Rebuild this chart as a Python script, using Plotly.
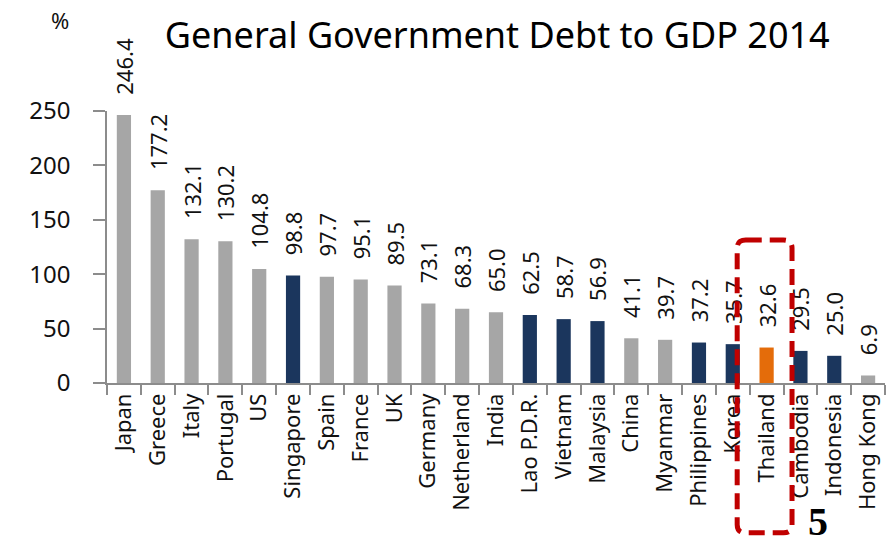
import plotly.graph_objects as go

countries = ["Japan", "Greece", "Italy", "Portugal", "US", "Singapore", "Spain",
             "France", "UK", "Germany", "Netherland", "India", "Lao P.D.R.",
             "Vietnam", "Malaysia", "China", "Myanmar", "Philippines", "Korea",
             "Thailand", "Cambodia", "Indonesia", "Hong Kong"]
debt_pct = [246.4, 177.2, 132.1, 130.2, 104.8, 98.8, 97.7, 95.1, 89.5, 73.1,
            68.3, 65.0, 62.5, 58.7, 56.9, 41.1, 39.7, 37.2, 35.7, 32.6, 29.5,
            25.0, 6.9]
asean = {"Singapore", "Lao P.D.R.", "Vietnam", "Malaysia", "Philippines",
         "Korea", "Cambodia", "Indonesia"}
y_ticks = [0, 50, 100, 150, 200, 250]

GRAY, NAVY, ORANGE = "#A6A6A6", "#1B365D", "#E46C0A"
colors = [ORANGE if c == "Thailand" else NAVY if c in asean else GRAY
          for c in countries]

FONT = "Noto Sans"
AXIS = "#8C8C8C"

fig = go.Figure(go.Bar(
    x=countries, y=debt_pct, marker_color=colors, marker_line_width=0,
    # leading no-break spaces lift the rotated value labels off the bars
    texttemplate="\u00a0\u00a0\u00a0%{y:.1f}", textposition="outside",
    textangle=-90, constraintext="none",
    textfont=dict(family=FONT, size=22, color="#111"),
    cliponaxis=False, width=0.42,
))

# dashed highlight around Thailand
x0, x1, y0, y1 = 0.81, 0.8805, -0.551, 0.5257
rx, ry = 0.011, 0.03
path = (f"M {x0+rx},{y1} L {x1-rx},{y1} Q {x1},{y1} {x1},{y1-ry} "
        f"L {x1},{y0+ry} Q {x1},{y0} {x1-rx},{y0} L {x0+rx},{y0} "
        f"Q {x0},{y0} {x0},{y0+ry} L {x0},{y1-ry} Q {x0},{y1} {x0+rx},{y1} Z")
fig.add_shape(type="path", path=path, xref="paper", yref="paper",
              line=dict(color="#C00000", width=5, dash="16px,8px"))

fig.add_annotation(text="%", xref="paper", yref="paper", x=-0.06, y=1.335,
                   xanchor="center", yanchor="middle", showarrow=False,
                   font=dict(family=FONT, size=22, color="#111"))
fig.add_annotation(text="<b>5</b>", xref="paper", yref="paper", x=0.914,
                   y=-0.6, xanchor="center", yanchor="bottom", showarrow=False,
                   font=dict(family="Liberation Serif", size=40, color="#000"))

fig.update_layout(
    width=896, height=545, margin=dict(l=107, r=11, t=111, b=162),
    paper_bgcolor="white", plot_bgcolor="white", showlegend=False,
    title=dict(text="General Government Debt to GDP 2014", x=0.555, y=0.935,
               xanchor="center", yanchor="middle",
               font=dict(family=FONT, size=36, color="#000")),
    font=dict(family=FONT, color="#111"),
)
fig.update_xaxes(
    tickangle=-90, tickfont=dict(size=22), showline=True, linecolor=AXIS,
    linewidth=1.5, ticks="outside", tickson="boundaries", ticklen=10,
    tickcolor=AXIS, tickwidth=1.5, showgrid=False,
)
fig.update_yaxes(
    range=[0, 250], tickvals=y_ticks, tickfont=dict(size=24), showline=True,
    linecolor=AXIS, linewidth=1.5, ticks="outside", ticklen=12,
    tickcolor=AXIS, tickwidth=1.5, showgrid=False, zeroline=False,
    ticklabelstandoff=18,
)

fig.write_html("out.html")
